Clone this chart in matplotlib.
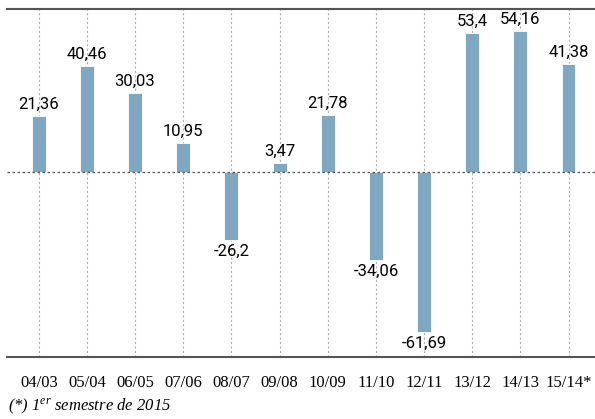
import numpy as np
import matplotlib.pyplot as plt

plt.rcParams['mathtext.fontset'] = 'custom'
plt.rcParams['mathtext.it'] = 'Liberation Serif:italic'
plt.rcParams['mathtext.rm'] = 'Liberation Serif:italic'

# Year-over-year variation per period
periods = ['04/03', '05/04', '06/05', '07/06', '08/07', '09/08',
           '10/09', '11/10', '12/11', '13/12', '14/13', '15/14*']
values = [21.36, 40.46, 30.03, 10.95, -26.2, 3.47,
          21.78, -34.06, -61.69, 53.4, 54.16, 41.38]

bar_color = '#7ea7c2'
label_font = ['Roboto', 'DejaVu Sans']

fig = plt.figure(figsize=(5.95, 4.19), dpi=100)
ax = fig.add_axes([7 / 595, 1 - 357 / 419, 1 - 7 / 595, (357 - 9) / 419])

x = np.arange(len(values))
ax.bar(x, values, width=0.29, color=bar_color, edgecolor='white', linewidth=0.6, zorder=3)

ax.set_xlim(-0.66, 11.55)
ax.set_ylim(-71.3, 62.5)

# dotted guides: one per period plus the zero line
for xi in x:
    ax.axvline(xi, color='#b0b0b0', linestyle=(0, (2, 2)), linewidth=0.8, zorder=1)
ax.axhline(0, color='#555555', linestyle=(0, (2, 2)), linewidth=0.9, zorder=4)

for xi, v in zip(x, values):
    txt = f'{v:g}'.replace('.', ',')
    if v >= 0:
        ax.annotate(txt, (xi, v), xytext=(0, 3), textcoords='offset points',
                    ha='center', va='bottom', fontsize=12, family=label_font)
    else:
        ax.annotate(txt, (xi, v), xytext=(0, -3), textcoords='offset points',
                    ha='center', va='top', fontsize=12, family=label_font)

for side in ['left', 'right']:
    ax.spines[side].set_visible(False)
for side in ['top', 'bottom']:
    ax.spines[side].set_color('#555555')
    ax.spines[side].set_linewidth(1.5)

ax.set_yticks([])
ax.set_xticks(x)
ax.set_xticklabels(periods, family='Liberation Serif', fontsize=12)
ax.tick_params(axis='x', length=0, pad=13)

fig.text(8 / 595, 1 - 406 / 419, r'(*) 1$^{er}$ semestre de 2015', family='Liberation Serif',
         style='italic', fontsize=12, va='center', ha='left')

fig.savefig('out.png', dpi=100)
